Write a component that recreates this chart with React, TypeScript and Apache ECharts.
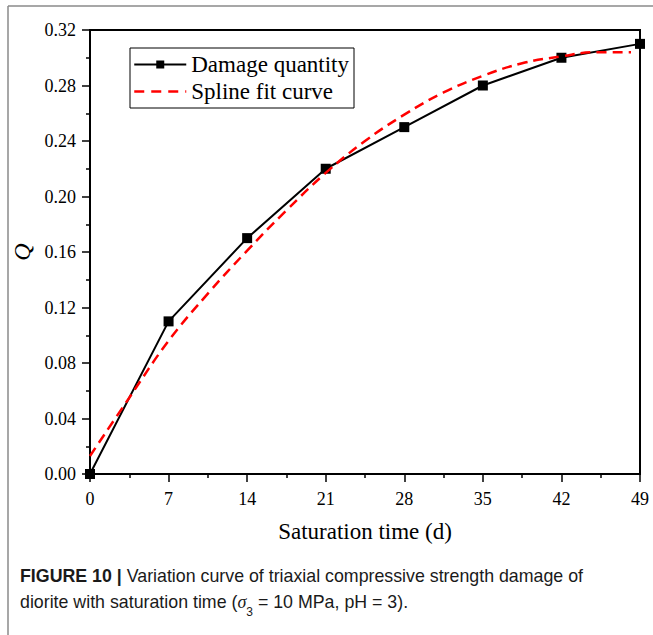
import React, { useEffect, useRef } from "react";
import * as echarts from "echarts";

// ---- data ----
const saturationDays = [0, 7, 14, 21, 28, 35, 42, 49];
const damageQuantity = [0.0, 0.11, 0.17, 0.22, 0.25, 0.28, 0.3, 0.31];

const splineX = [0, 3.5, 7, 10.5, 14, 17.5, 21, 24.5, 28, 31.5, 35, 38.5, 42, 45, 48.2];
const splineY = [0.013, 0.055, 0.096, 0.13, 0.161, 0.19, 0.217, 0.24, 0.259, 0.275, 0.287, 0.296, 0.301, 0.304, 0.304];

const seriesNames = ["Damage quantity", "Spline fit curve"];
const xAxisTitle = "Saturation time (d)";
const yAxisTitle = "Q";
const captionBold = "FIGURE 10 |";
const captionLine1 = " Variation curve of triaxial compressive strength damage of";
const captionLine2a = "diorite with saturation time (";
const captionLine2b = " = 10 MPa, pH = 3).";

const SERIF = "'Liberation Serif', 'Times New Roman', serif";
const SANS = "'Liberation Sans', Arial, sans-serif";

export default function App() {
  const ref = useRef<HTMLDivElement>(null);

  useEffect(() => {
    if (!ref.current) return;
    const chart = echarts.init(ref.current, undefined, { renderer: "svg" });

    const damagePts = saturationDays.map((x, i) => [x, damageQuantity[i]]);
    const splinePts = splineX.map((x, i) => [x, splineY[i]]);

    chart.setOption({
      animation: false,
      backgroundColor: "#fff",
      grid: {
        left: 90,
        right: 13,
        top: 30,
        bottom: 161,
        show: true,
        borderColor: "#000",
        borderWidth: 2,
        backgroundColor: "transparent",
      },
      legend: {
        orient: "vertical",
        left: 130,
        top: 48,
        padding: [5, 5, 5, 3],
        borderColor: "#000",
        borderWidth: 1,
        itemWidth: 52,
        itemHeight: 10,
        itemGap: 4,
        textStyle: { fontFamily: SERIF, fontSize: 23, color: "#000" },
        data: [
          { name: seriesNames[0] },
          { name: seriesNames[1], itemStyle: { opacity: 0 }, lineStyle: { type: [10, 7], width: 2.5 } },
        ],
      },
      xAxis: {
        type: "value",
        min: 0,
        max: 49,
        interval: 7,
        name: xAxisTitle,
        nameLocation: "middle",
        nameGap: 46,
        nameTextStyle: { fontFamily: SERIF, fontSize: 23, color: "#000" },
        axisLine: { show: true, lineStyle: { color: "#000", width: 2 } },
        axisTick: { show: true, length: 8, lineStyle: { color: "#000", width: 1.5 } },
        minorTick: { show: true, splitNumber: 2, length: 4, lineStyle: { color: "#000", width: 1.5 } },
        axisLabel: { fontFamily: SERIF, fontSize: 18, color: "#000", margin: 16 },
        splitLine: { show: false },
        minorSplitLine: { show: false },
      },
      yAxis: {
        type: "value",
        min: 0,
        max: 0.32,
        interval: 0.04,
        name: yAxisTitle,
        nameLocation: "middle",
        nameGap: 50,
        nameTextStyle: { fontFamily: SERIF, fontSize: 24, fontStyle: "italic", color: "#000" },
        axisLine: { show: true, lineStyle: { color: "#000", width: 2 } },
        axisTick: { show: true, length: 8, lineStyle: { color: "#000", width: 1.5 } },
        minorTick: { show: true, splitNumber: 2, length: 4, lineStyle: { color: "#000", width: 1.5 } },
        axisLabel: {
          fontFamily: SERIF,
          fontSize: 18,
          color: "#000",
          margin: 14,
          formatter: (v: number) => v.toFixed(2),
        },
        splitLine: { show: false },
        minorSplitLine: { show: false },
      },
      series: [
        {
          name: seriesNames[0],
          type: "line",
          data: damagePts,
          symbol: "rect",
          symbolSize: 10,
          itemStyle: { color: "#000" },
          lineStyle: { color: "#000", width: 2 },
          z: 2,
        },
        {
          name: seriesNames[1],
          type: "line",
          data: splinePts,
          smooth: 0.4,
          symbol: "none",
          itemStyle: { color: "#ff0000" },
          lineStyle: { color: "#ff0000", width: 2.5, type: [10, 6] },
          z: 3,
        },
      ],
      graphic: [
        {
          type: "line",
          shape: { x1: 8, y1: 6, x2: 653, y2: 6 },
          style: { stroke: "#8a8a8a", lineWidth: 1.5 },
        },
        {
          type: "line",
          shape: { x1: 8, y1: 6, x2: 8, y2: 635 },
          style: { stroke: "#8a8a8a", lineWidth: 1.5 },
        },
        {
          type: "text",
          left: 20,
          top: 567,
          style: {
            text:
              "{b|" + captionBold + "}{n|" + captionLine1 + "}\n" +
              "{n|" + captionLine2a + "}{i|σ}{s|3}{n|" + captionLine2b + "}",
            rich: {
              b: { fontFamily: SANS, fontSize: 17.8, fontWeight: "bold", fill: "#1a1a1a", lineHeight: 26 },
              n: { fontFamily: SANS, fontSize: 17.8, fill: "#1a1a1a", lineHeight: 26 },
              i: { fontFamily: SERIF, fontSize: 18, fontStyle: "italic", fill: "#1a1a1a", lineHeight: 26 },
              s: { fontFamily: SANS, fontSize: 12, fill: "#1a1a1a", lineHeight: 26, verticalAlign: "bottom", padding: [0, 0, -3, 0] },
            },
          },
        },
      ],
    });

    return () => chart.dispose();
  }, []);

  return (
    <div
      ref={ref}
      style={{ position: "fixed", left: 0, top: 0, width: 653, height: 635 }}
    />
  );
}
